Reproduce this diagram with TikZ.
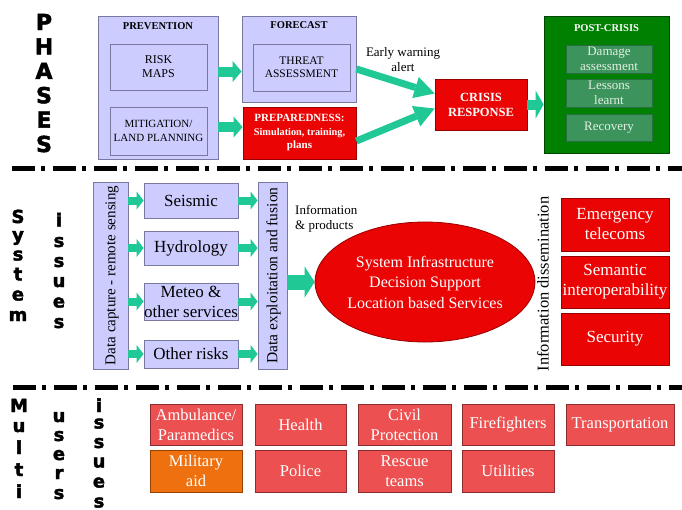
\documentclass[tikz,border=0pt]{standalone}
\usepackage{fontspec}
\setmainfont{Liberation Serif}
\newfontfamily\heavy{DejaVu Sans}[BoldFeatures={FakeBold=2.2}]
\usetikzlibrary{arrows.meta,calc,shapes.geometric}

\definecolor{lavfill}{RGB}{204,204,255}
\definecolor{lavline}{RGB}{120,120,160}
\definecolor{redfill}{RGB}{234,4,4}
\definecolor{redline}{RGB}{150,0,0}
\definecolor{userfill}{RGB}{236,80,80}
\definecolor{userline}{RGB}{140,45,45}
\definecolor{orangefill}{RGB}{238,112,14}
\definecolor{orangeline}{RGB}{150,65,0}
\definecolor{dkgreen}{RGB}{0,128,0}
\definecolor{dkgreenline}{RGB}{0,70,0}
\definecolor{midgreen}{RGB}{60,148,92}
\definecolor{midgreenline}{RGB}{40,110,65}
\definecolor{greentext}{RGB}{228,238,228}
\definecolor{teal}{RGB}{32,200,150}

\tikzset{
  box/.style={line width=0.8pt, inner sep=0pt, align=center},
  lav/.style={box, draw=lavline, fill=lavfill},
  redbox/.style={box, draw=redline, fill=redfill, text=white},
  userbox/.style={box, draw=userline, fill=userfill, text=white,
    font=\fontsize{16.5}{20}\selectfont},
  milbox/.style={userbox, draw=orangeline, fill=orangefill},
  greenbox/.style={box, draw=dkgreenline, fill=dkgreen},
  greeninner/.style={box, draw=midgreenline, fill=midgreen, text=greentext,
    font=\fontsize{13}{15.5}\selectfont},
  boxtitle/.style={inner sep=0pt, font=\bfseries\fontsize{10.5}{12}\selectfont},
  midbox/.style={lav, font=\fontsize{17}{20}\selectfont},
  sidebox/.style={redbox, font=\fontsize{17}{20}\selectfont},
  bigA/.style={inner sep=0pt, anchor=base, font=\heavy\bfseries\fontsize{22}{22}\selectfont},
  bigB/.style={inner sep=0pt, anchor=base, font=\heavy\bfseries\fontsize{18}{18}\selectfont},
  blockarrow/.style n args={3}{draw=teal, line width=#1,
    -{Triangle[width=#2, length=#3, line width=0pt]}},
  separator/.style={line width=5pt, dash pattern=on 23pt off 6pt on 4pt off 8pt},
}

\begin{document}
\begin{tikzpicture}[x=1pt,y=-1pt]
\fill[white] (0,0) rectangle (682,509);
\useasboundingbox (0,0) rectangle (682,509);

% ---------- phases ----------
\foreach \l/\y [count=\i] in {P/30,H/54.4,A/78.8,S/103.2,E/127.6,S/152}
  \node[bigA, name=ph\i] at (44,\y) {\l};

\node[lav, minimum width=120pt, minimum height=143pt] (prev) at (158,87.5) {};
\node[boxtitle, anchor=north] (prevT) at (158,22.5) {PREVENTION};
\node[lav, minimum width=97pt, minimum height=46pt,
      font=\fontsize{12}{14}\selectfont] (risk) at (158.5,67) {RISK\\MAPS};
\node[lav, minimum width=97pt, minimum height=48pt,
      font=\fontsize{11}{14}\selectfont] (mitig) at (158.5,131) {MITIGATION/\\LAND PLANNING};

\node[lav, minimum width=114pt, minimum height=86pt] (fore) at (299,59) {};
\node[boxtitle, anchor=north] (foreT) at (299,21.5) {FORECAST};
\node[lav, minimum width=97pt, minimum height=47pt,
      font=\fontsize{11.5}{13}\selectfont] (threat) at (301.5,67.5) {THREAT\\ASSESSMENT};

\node[redbox, minimum width=113pt, minimum height=52pt,
      font=\bfseries\fontsize{11}{13}\selectfont]
  (prep) at (299.5,133)
  {PREPAREDNESS:\\[1pt]
   \fontsize{10.3}{12}\selectfont Simulation, training,\\plans};

\node[redbox, minimum width=92pt, minimum height=51pt,
      font=\bfseries\fontsize{12.5}{15}\selectfont] (crisis) at (481,104.5) {CRISIS\\RESPONSE};

\node[greenbox, minimum width=125pt, minimum height=137pt] (post) at (606.5,84.5) {};
\node[boxtitle, text=white, anchor=north] (postT) at (606.5,24.5) {POST-CRISIS};
\node[greeninner, minimum width=86pt, minimum height=28pt] (damage) at (609,59) {Damage\\assessment};
\node[greeninner, minimum width=86pt, minimum height=28pt] (lessons) at (609,93) {Lessons\\learnt};
\node[greeninner, minimum width=86pt, minimum height=27pt] (recovery) at (609,127.5) {Recovery};

\node[align=center, inner sep=0pt, font=\fontsize{13}{15}\selectfont]
  (ewa) at (403,60) {Early warning\\alert};

\draw[blockarrow={10pt}{21pt}{9pt}] ($(prev.east|-risk)+(0,4.5)$) -- ($(fore.west|-risk)+(0,4.5)$);
\draw[blockarrow={10pt}{21pt}{9pt}] ($(prev.east|-mitig)+(0,-4)$) -- ($(prep.west|-mitig)+(0,-4)$);
\draw[blockarrow={7pt}{22pt}{20pt}] ($(fore.east)+(0,10)$) -- ($(crisis.west)+(0,-11)$);
\draw[blockarrow={7pt}{22pt}{20pt}] ($(prep.east)+(0,8)$) -- ($(crisis.west)+(0,4)$);
\draw[blockarrow={10pt}{28pt}{8pt}] (crisis.east) -- (post.west|-crisis.east);

\draw[separator] (12,168) -- (682,168);

% ---------- system issues ----------
\foreach \l/\y [count=\i] in {S/223,y/241,s/260.5,t/280.5,e/300.5,m/321}
  \node[bigB, name=sy\i] at (18,\y) {\l};
\foreach \l/\y [count=\i] in {i/226.5,s/247,s/267,u/287,e/307.5,s/328}
  \node[bigB, name=si\i] at (59,\y) {\l};

\node[lav, minimum width=35pt, minimum height=187pt] (dcap) at (110.5,275.5) {};
\node[rotate=90, inner sep=0pt, font=\fontsize{15}{15}\selectfont] (dcapT) at (112,275.5)
  {Data capture - remote sensing};
\node[midbox, minimum width=94pt, minimum height=35pt] (seis) at (191,200.5) {Seismic};
\node[midbox, minimum width=94pt, minimum height=34pt] (hydro) at (191,248) {Hydrology};
\node[midbox, minimum width=94pt, minimum height=37pt] (meteo) at (191,301.5) {Meteo \&\\other services};
\node[midbox, minimum width=94pt, minimum height=28pt] (other) at (191,354) {Other risks};
\node[lav, minimum width=29pt, minimum height=187pt] (dexp) at (272.5,275.5) {};
\node[rotate=90, inner sep=0pt, font=\fontsize{15.5}{15.5}\selectfont] (dexpT) at (273.5,275.5)
  {Data exploitation and fusion};

\foreach \b in {seis,hydro,meteo,other}{
  \draw[blockarrow={8pt}{18pt}{7pt}] (dcap.east|-\b) -- (\b.west);
  \draw[blockarrow={8pt}{18pt}{7pt}] (\b.east) -- (dexp.west|-\b);
}

\node[align=left, anchor=west, inner sep=0pt, font=\fontsize{13}{15}\selectfont]
  (infoprod) at (295,219) {Information\\\& products};

\node[ellipse, draw=redline, fill=redfill, line width=0.8pt, text=white, align=center,
      minimum width=206pt, minimum height=120pt, inner sep=0pt,
      font=\fontsize{16}{20.5}\selectfont] (ell) at (425,282)
  {System Infrastructure\\Decision Support\\Location based Services};
\draw[blockarrow={15pt}{31pt}{10pt}] (dexp.east|-ell.west) -- (ell.west);

\node[rotate=90, inner sep=0pt, font=\fontsize{16.5}{16.5}\selectfont] (dissem) at (543,284)
  {Information dissemination};
\node[sidebox, minimum width=108pt, minimum height=53pt] (emer) at (615,224.5) {Emergency\\telecoms};
\node[sidebox, minimum width=108pt, minimum height=52pt] (sem) at (615,282) {Semantic\\interoperability};
\node[sidebox, minimum width=108pt, minimum height=52pt] (sec) at (615,339) {Security};

\draw[separator] (13,387) -- (682,387);

% ---------- multi users issues ----------
\foreach \l/\y [count=\i] in {M/412,u/432,l/454,t/476,i/498}
  \node[bigB, name=mu\i] at (19,\y) {\l};
\foreach \l/\y [count=\i] in {u/422,s/441,e/460,r/479,s/499}
  \node[bigB, name=mus\i] at (59,\y) {\l};
\foreach \l/\y [count=\i] in {i/412,s/428.5,s/448,u/467.5,e/487.5,s/507.5}
  \node[bigB, name=mi\i] at (99,\y) {\l};

\node[userbox, minimum width=92pt, minimum height=41pt] (amb) at (196,424.5) {Ambulance/\\Paramedics};
\node[userbox, minimum width=91pt, minimum height=41pt] (health) at (300.5,424.5) {Health};
\node[userbox, minimum width=93pt, minimum height=41pt] (civil) at (404.5,424.5) {Civil\\Protection};
\node[userbox, minimum width=92pt, minimum height=41pt] (fire) at (508,424.5) {Firefighters};
\node[userbox, minimum width=108pt, minimum height=41pt] (trans) at (620,424.5) {Transportation};
\node[milbox, minimum width=92pt, minimum height=42pt] (mil) at (196,471) {Military\\aid};
\node[userbox, minimum width=91pt, minimum height=42pt] (police) at (300.5,471) {Police};
\node[userbox, minimum width=93pt, minimum height=42pt] (rescue) at (404.5,471) {Rescue\\teams};
\node[userbox, minimum width=92pt, minimum height=42pt] (util) at (508,471) {Utilities};
\end{tikzpicture}
\end{document}
